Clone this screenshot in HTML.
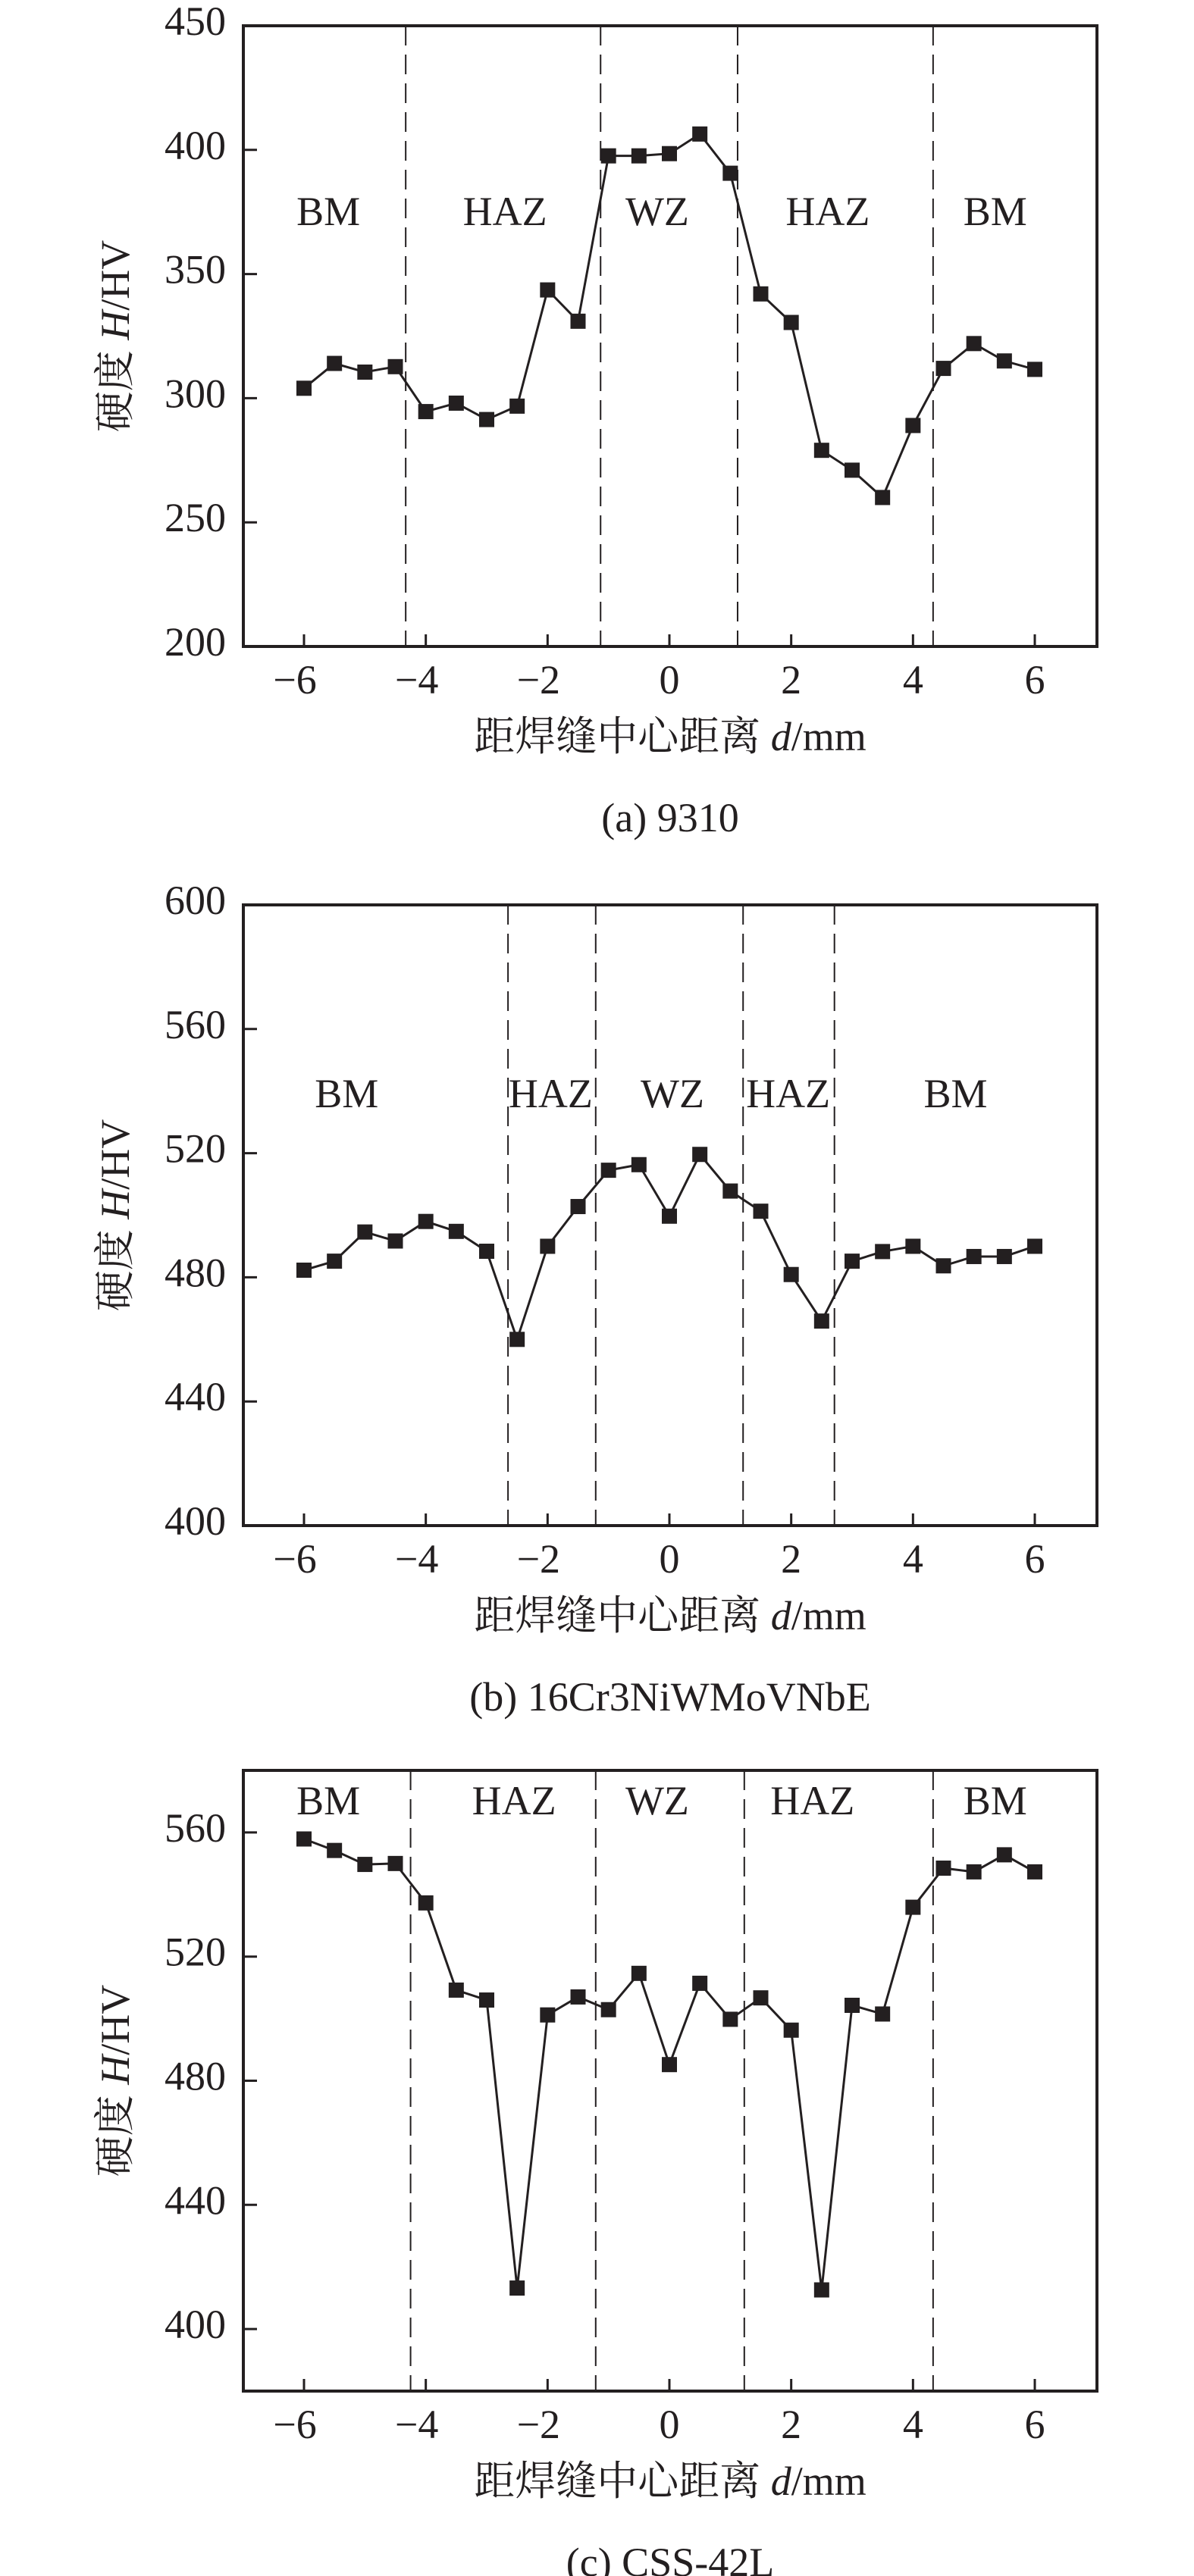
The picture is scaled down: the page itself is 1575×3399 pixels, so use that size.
<!DOCTYPE html>
<html><head><meta charset="utf-8">
<style>
html,body{margin:0;padding:0;background:#fff;}
svg{display:block;}
text{font-family:"Liberation Serif","Noto Serif CJK SC","Noto Sans CJK SC",serif;fill:#231f20;}
</style></head>
<body>
<svg id="fig" width="1575" height="3399" viewBox="0 0 1575 3399" xmlns="http://www.w3.org/2000/svg"></svg>
<script>
// shared x positions (distance from weld centre, mm)
const xVals = [-6,-5.5,-5,-4.5,-4,-3.5,-3,-2.5,-2,-1.5,-1,-0.5,0,0.5,1,1.5,2,2.5,3,3.5,4,4.5,5,5.5,6];
const xTicks = [-6,-4,-2,0,2,4,6];
const regionNames = ["BM","HAZ","WZ","HAZ","BM"];

// chart (a) 9310
const hardA = [304,314,310.5,312.7,294.6,298,291.4,296.8,343.6,331,397.6,397.6,398.5,406.4,390.6,342,330.5,279,271,260,289,312,322,315,311.6];
const yTicksA = [200,250,300,350,400,450];
const boundsA = [-4.33,-1.13,1.12,4.33];
const regionXA = [-5.6,-2.7,-0.2,2.6,5.35];

// chart (b) 16Cr3NiWMoVNbE
const hardB = [482.3,485.2,494.6,491.7,498,494.8,488.4,460,490,502.8,514.5,516.3,499.7,519.6,507.8,501.3,480.9,465.9,485.2,488.3,490,483.7,486.7,486.7,490];
const yTicksB = [400,440,480,520,560,600];
const boundsB = [-2.65,-1.21,1.21,2.71];
const regionXB = [-5.3,-1.95,0.05,1.95,4.7];

// chart (c) CSS-42L
const hardC = [557.9,554.2,549.7,550,537.3,509.2,506,413.2,501.2,507,502.9,514.6,485.2,511.4,499.8,506.7,496.3,412.6,504.3,501.5,535.9,548.5,547.3,552.8,547.3];
const yTicksC = [400,440,480,520,560];
const boundsC = [-4.25,-1.21,1.23,4.33];
const regionXC = [-5.6,-2.55,-0.2,2.35,5.35];

const NS = "http://www.w3.org/2000/svg";
const fig = document.getElementById("fig");
function mk(tag, attrs, parent){
  const e = document.createElementNS(NS, tag);
  for (const k in attrs) e.setAttribute(k, attrs[k]);
  (parent||fig).appendChild(e);
  return e;
}

function drawChart(id, cfg){
  const g = mk("g", {});
  
  
  const L = 321, R = 1447, T = cfg.top, B = cfg.top + 819;
  const xMin = -7, xMax = 7; // -6 -> 401, 6 -> 1365
  const sx = v => 401 + (v + 6) * (964/12);
  const sy = v => B - (v - cfg.yMin) / (cfg.yMax - cfg.yMin) * (B - T);

  // boundaries (dashed)
  cfg.bounds.forEach(b => {
    const l = mk("line", {x1:sx(b), x2:sx(b), y1:T, y2:B, stroke:"#231f20", "stroke-width":2, "stroke-dasharray":"26,12"}, g);
    
    
  });
  // region labels
  cfg.regionX.forEach((rx, i) => {
    const t = mk("text", {x:sx(rx), y:cfg.labelY, "font-size":54, "text-anchor":"middle", "dominant-baseline":"central"}, g);
    t.textContent = regionNames[i];
    
    
  });
  // axes frame
  const fr = mk("rect", {x:L, y:T, width:R-L, height:B-T, fill:"none", stroke:"#231f20", "stroke-width":4}, g);
  
  
  // y ticks + labels
  cfg.yTicks.forEach(v => {
    const y = sy(v);
    const tk = mk("line", {x1:L, x2:L+18, y1:y, y2:y, stroke:"#231f20", "stroke-width":3}, g);
    
    
    const t = mk("text", {x:298, y:y-6, "font-size":54, "text-anchor":"end", "dominant-baseline":"central"}, g);
    t.textContent = v;
    
    
  });
  // x ticks + labels
  xTicks.forEach(v => {
    const x = sx(v);
    const tk = mk("line", {x1:x, x2:x, y1:B, y2:B-16, stroke:"#231f20", "stroke-width":3}, g);
    
    
    const t = mk("text", {x:x, y:B+44, "font-size":54, "text-anchor":"middle", "dominant-baseline":"central"}, g);
    t.textContent = v < 0 ? "\u2212" + Math.abs(v) : String(v);
    if (v < 0) t.setAttribute("dx", -12);
    
    
  });
  // series line
  const pts = xVals.map((x, i) => sx(x) + "," + sy(cfg.data[i])).join(" ");
  const pl = mk("polyline", {points:pts, fill:"none", stroke:"#231f20", "stroke-width":3}, g);
  
  
  xVals.forEach((x, i) => {
    const r = mk("rect", {x:sx(x)-10, y:sy(cfg.data[i])-10, width:20, height:20, fill:"#231f20"}, g);
    
    
  });
  // y axis title
  const yt = mk("text", {x:0, y:0, "font-size":54, "text-anchor":"middle", "dominant-baseline":"central", transform:"translate(152," + ((T+B)/2) + ") rotate(-90)"}, g);
  
  
  yt.appendChild(document.createTextNode("硬度 "));
  const ti = mk("tspan", {"font-style":"italic"}, yt); ti.textContent = "H";
  yt.appendChild(document.createTextNode("/HV"));
  // x axis title
  const xt = mk("text", {x:884, y:B+119, "font-size":54, "text-anchor":"middle", "dominant-baseline":"central"}, g);
  
  
  xt.appendChild(document.createTextNode("距焊缝中心距离 "));
  const di = mk("tspan", {"font-style":"italic"}, xt); di.textContent = "d";
  xt.appendChild(document.createTextNode("/mm"));
  // caption
  const cap = mk("text", {x:884, y:B+226, "font-size":54, "text-anchor":"middle", "dominant-baseline":"central"}, g);
  cap.textContent = cfg.caption;
  
  
}

drawChart("chart-a", {top:34, yMin:200, yMax:450, yTicks:yTicksA, data:hardA, bounds:boundsA, regionX:regionXA, labelY:279, caption:"(a) 9310"});
drawChart("chart-b", {top:1194, yMin:400, yMax:600, yTicks:yTicksB, data:hardB, bounds:boundsB, regionX:regionXB, labelY:1443, caption:"(b) 16Cr3NiWMoVNbE"});
drawChart("chart-c", {top:2336, yMin:380, yMax:580, yTicks:yTicksC, data:hardC, bounds:boundsC, regionX:regionXC, labelY:2376, caption:"(c) CSS-42L"});
</script>
</body></html>
